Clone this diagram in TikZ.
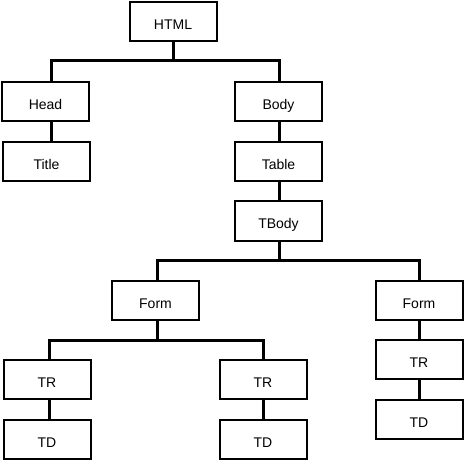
\documentclass[tikz,border=0pt]{standalone}
\usepackage{fontspec}
\setmainfont{Liberation Sans}
\begin{document}
\begin{tikzpicture}[x=1pt,y=-1pt,
  box/.style={draw=black,line width=2pt,minimum width=87pt,minimum height=39pt,inner sep=0pt,
    text height=16pt,text depth=0pt,font=\fontsize{14}{16}\selectfont},
  conn/.style={draw=black,line width=3pt}]
\useasboundingbox (0,0) rectangle (465,462);
\node[box] (html) at (173,21.5) {HTML};
\node[box] (head) at (45.5,101.5) {Head};
\node[box] (title) at (46.5,161.5) {Title};
\node[box] (body) at (278.5,101.5) {Body};
\node[box] (table) at (278.5,161.5) {Table};
\node[box] (tbody) at (278.5,221) {TBody};
\node[box] (formL) at (155.5,300) {Form};
\node[box] (formR) at (419,300) {Form};
\node[box] (trL) at (47,379.5) {TR};
\node[box] (tdL) at (47,439.5) {TD};
\node[box] (trM) at (263,379.5) {TR};
\node[box] (tdM) at (263,439.5) {TD};
\node[box] (trR) at (419,359.5) {TR};
\node[box] (tdR) at (419,419.5) {TD};
% buses
\coordinate (b1) at (173,61);
\coordinate (b2) at (279,260);
\coordinate (b3) at (157,340);
\draw[conn] (html.south) -- (b1);
\draw[conn] ([xshift=5.5pt]head.north) |- (b1) -| ([xshift=0.5pt]body.north);
\draw[conn] ([xshift=5.5pt]head.south) -- ([xshift=4.5pt]title.north);
\draw[conn] ([xshift=0.5pt]body.south) -- ([xshift=0.5pt]table.north);
\draw[conn] ([xshift=0.5pt]table.south) -- ([xshift=0.5pt]tbody.north);
\draw[conn] ([xshift=0.5pt]tbody.south) -- (b2);
\draw[conn] ([xshift=1.5pt]formL.north) |- (b2) -| (formR.north);
\draw[conn] ([xshift=1.5pt]formL.south) -- ([yshift=1.5pt]b3);
\draw[conn] ([xshift=2pt]trL.north) |- (b3) -| (trM.north);
\draw[conn] ([xshift=2pt]trL.south) -- ([xshift=2pt]tdL.north);
\draw[conn] (trM.south) -- (tdM.north);
\draw[conn] (formR.south) -- (trR.north);
\draw[conn] (trR.south) -- (tdR.north);
\end{tikzpicture}
\end{document}
